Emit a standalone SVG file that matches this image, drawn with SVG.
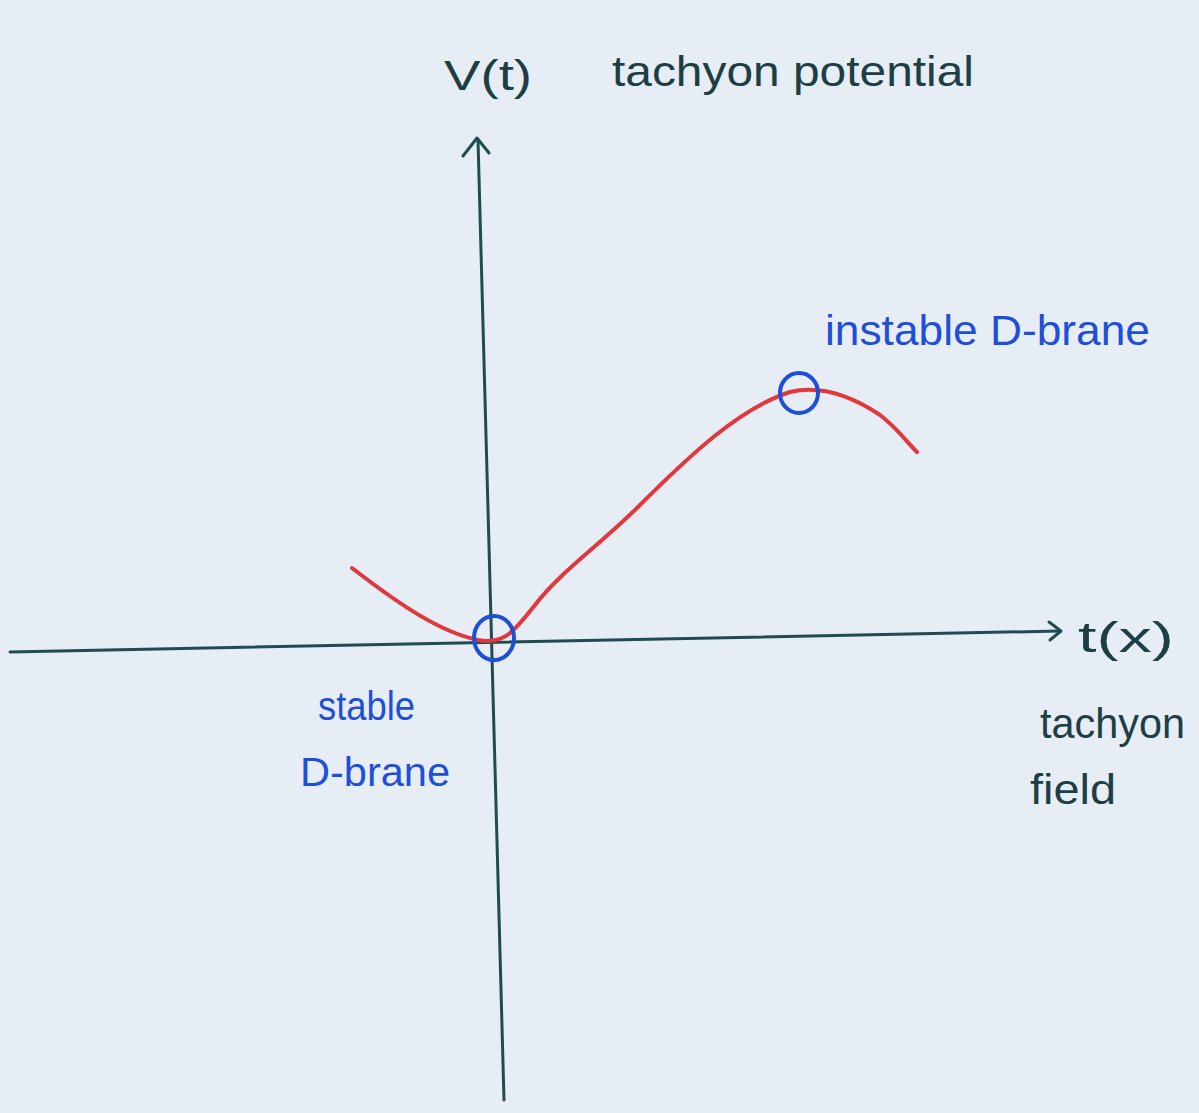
<svg xmlns="http://www.w3.org/2000/svg" width="1199" height="1113" viewBox="0 0 1199 1113">
<style>
.axis{stroke:#1f4d4f;stroke-width:3;fill:none;stroke-linecap:round;stroke-linejoin:round}
.curve{stroke:#e0383c;stroke-width:4;fill:none;stroke-linecap:round}
.mark{stroke:#1d4fd8;stroke-width:4;fill:none}
.ink{font-family:"Liberation Sans","DejaVu Sans",sans-serif;fill:#1c3e44}
.blue{font-family:"Liberation Sans","DejaVu Sans",sans-serif;fill:#1d4fd8}
</style>
<rect width="1199" height="1113" fill="#e7edf5"/>
<g id="axes">
<path class="axis" d="M10 652 L1060 631"/>
<path class="axis" d="M1049 622 L1061 631 L1050 640"/>
<path class="axis" d="M478 140 L504 1100"/>
<path class="axis" d="M463 156 L477 138 L489 153"/>
</g>
<g id="curve">
<path class="curve" d="M352 568 C400 605 440 632 478 640 C505 645 515 630 535 605 C560 572 600 545 640 505 C690 455 740 408 790 392 C820 385 850 395 880 415 C897 428 905 440 917 452"/>
</g>
<g id="stable-point">
<ellipse class="mark" cx="494" cy="638" rx="20" ry="22"/>
</g>
<g id="instable-point">
<ellipse class="mark" cx="799" cy="393" rx="19" ry="20"/>
</g>
<g id="labels">
<text class="ink" x="444" y="90" font-size="42" textLength="88" lengthAdjust="spacingAndGlyphs">V(t)</text>
<text class="ink" x="612" y="86" font-size="42" textLength="362" lengthAdjust="spacingAndGlyphs">tachyon potential</text>
<text class="ink" x="1078" y="652" font-size="42" textLength="96" lengthAdjust="spacingAndGlyphs">t(x)</text>
<text class="ink" x="1040" y="738" font-size="42" textLength="145" lengthAdjust="spacingAndGlyphs">tachyon</text>
<text class="ink" x="1030" y="804" font-size="42" textLength="86" lengthAdjust="spacingAndGlyphs">field</text>
<text class="blue" x="825" y="345" font-size="42" textLength="325" lengthAdjust="spacingAndGlyphs">instable D-brane</text>
<text class="blue" x="318" y="720" font-size="40" textLength="97" lengthAdjust="spacingAndGlyphs">stable</text>
<text class="blue" x="300" y="786" font-size="40" textLength="150" lengthAdjust="spacingAndGlyphs">D-brane</text>
</g>
</svg>
